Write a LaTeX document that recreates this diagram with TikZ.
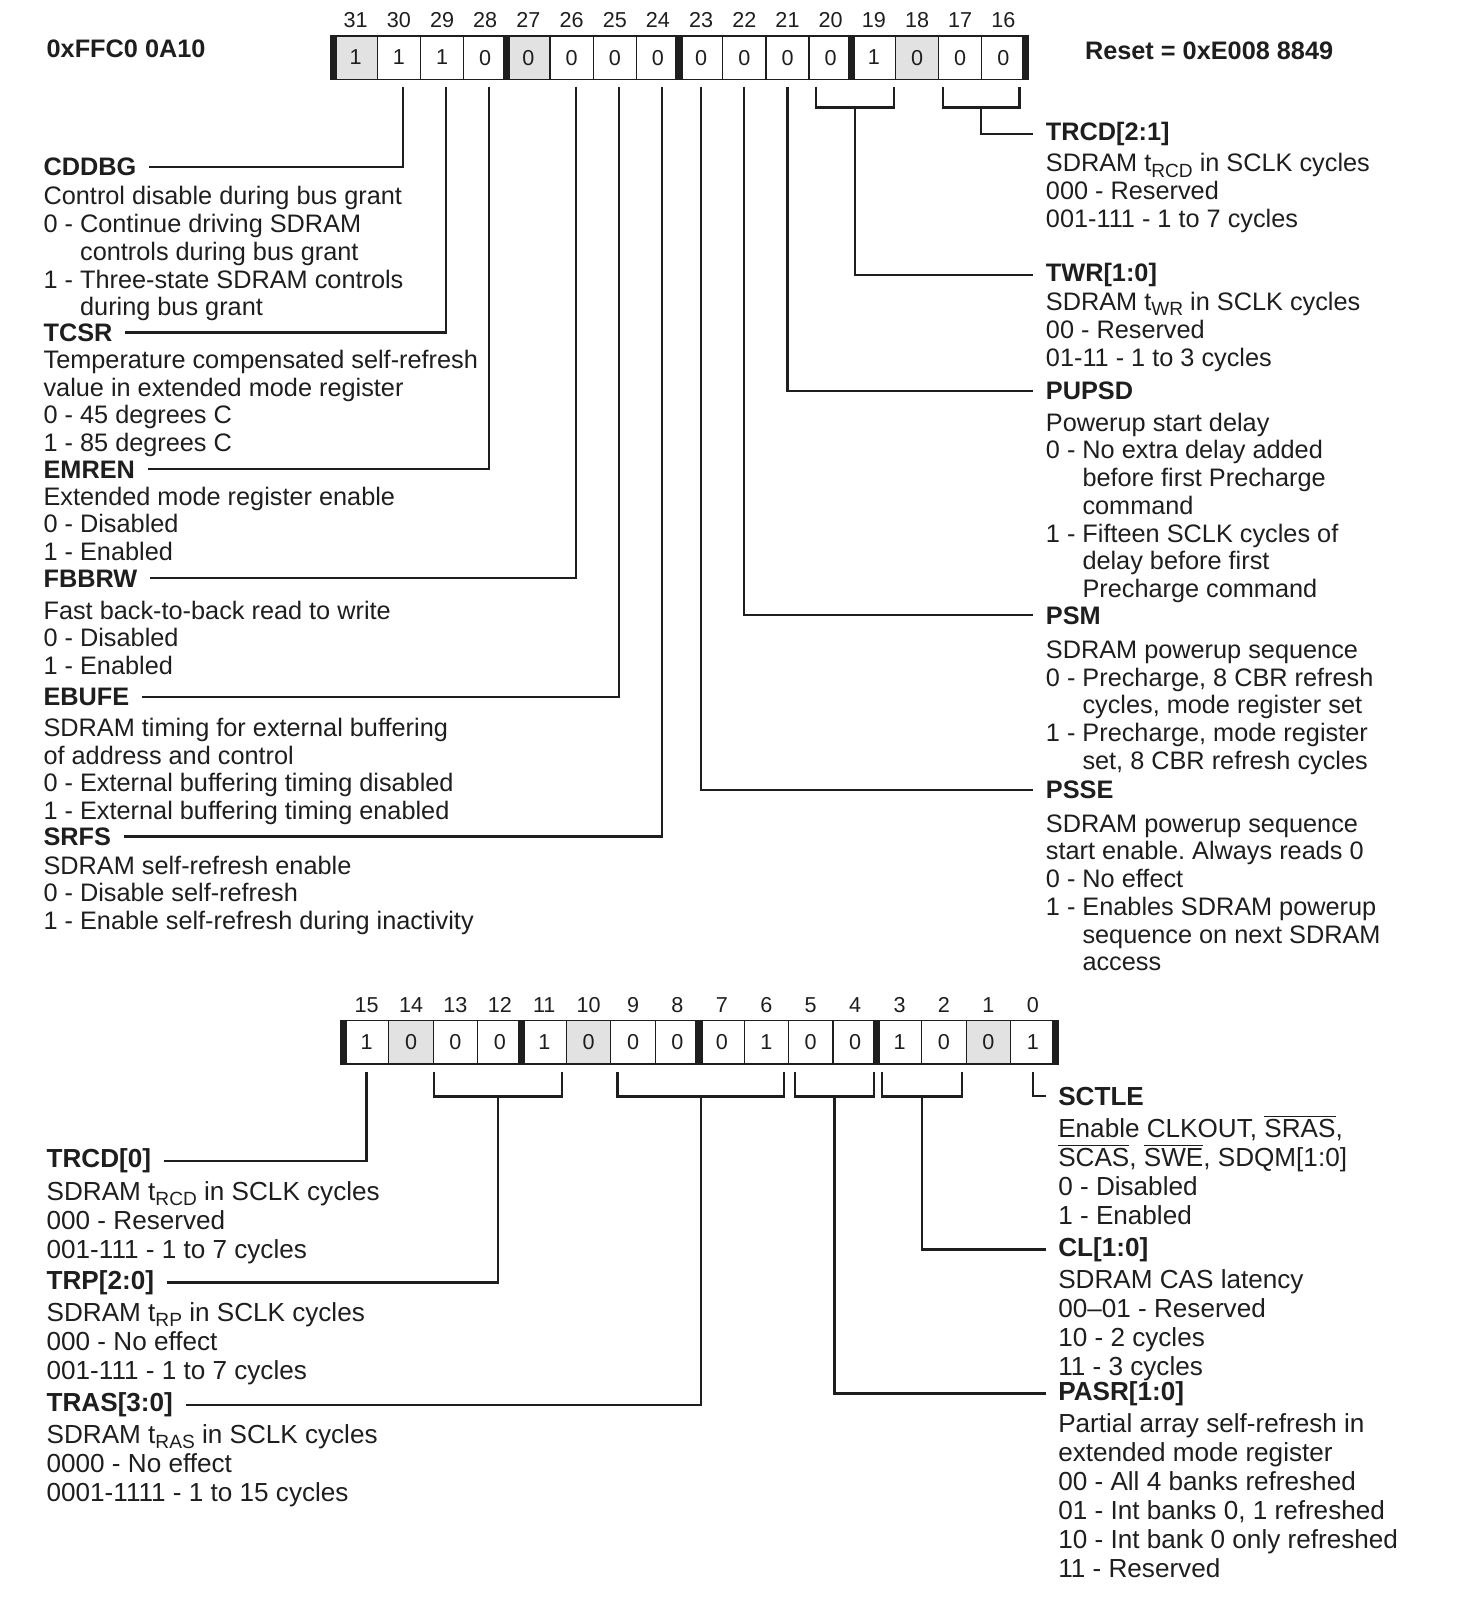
\documentclass[tikz,border=0pt]{standalone}
\usepackage{fontspec}
\setmainfont{Liberation Sans}
\usepackage{tikz}
\usetikzlibrary{positioning}
\definecolor{ink}{HTML}{1E1E1E}
\definecolor{shade}{HTML}{E2E2E2}
\frenchspacing
\newcommand{\contline}{\hphantom{0 - }}
\newcommand{\tsub}[1]{\raisebox{-0.2em}{\fontsize{9.3}{9.3}\selectfont #1}}
\newcommand{\negsig}[1]{\smash{$\overline{\hbox{#1}}$}}

\begin{document}
\begin{tikzpicture}[
  x=0.5pt, y=-0.5pt,
  cell/.style={draw=ink, line width=0.6pt, minimum width=21pt, minimum height=21pt, inner sep=0pt, text=ink, font=\fontsize{10.5}{12}\selectfont},
  bitnum/.style={inner sep=0pt, text=ink, font=\fontsize{10.5}{12}\selectfont},
  bar/.style={draw=ink, line width=3.5pt},
  fname/.style={inner sep=0pt, anchor=base west, text=ink, execute at begin node=\bfseries},
  fdesc/.style={inner sep=0pt, anchor=north west, align=left, text=ink},
  lead/.style={draw=ink, line width=1.1pt, shorten <=3.5pt, shorten >=6pt},
  brace/.style={draw=ink, line width=1.1pt},
  stem/.style={draw=ink, line width=1.1pt, shorten >=6pt}
]
\useasboundingbox (0,0) rectangle (1427,1568);

% upper half word, bits 31..16
\foreach \b/\v/\f [count=\i from 0] in {31/1/shade,30/1/white,29/1/white,28/0/white,27/0/shade,26/0/white,25/0/white,24/0/white,23/0/white,22/0/white,21/0/white,20/0/white,19/1/white,18/0/shade,17/0/white,16/0/white}{
  \node[cell, fill=\f] (t\b) at (346+42*\i,56) {\v};
  \node[bitnum, above=3.5pt of t\b] (tn\b) {\b};
}
% lower half word, bits 15..0
\foreach \b/\v/\f [count=\i from 0] in {15/1/white,14/0/shade,13/0/white,12/0/white,11/1/white,10/0/shade,9/0/white,8/0/white,7/0/white,6/1/white,5/0/white,4/0/white,3/1/white,2/0/white,1/0/shade,0/1/white}{
  \node[cell, minimum width=21.6pt, fill=\f] (b\b) at (356.6+43.2*\i,1014) {\v};
  \node[bitnum, above=3.5pt of b\b] (bn\b) {\b};
}
\foreach \c in {t31,t27,t23,t19,b15,b11,b7,b3}
  \draw[bar] (\c.north west) -- (\c.south west);
\foreach \c in {t16,b0}
  \draw[bar] (\c.north east) -- (\c.south east);

\begin{scope}[font=\fontsize{12.3}{13.5}\selectfont]
\node[fname] (addr) at (45,56) {0xFFC0 0A10};
\node[fname] (reset) at (1055,58) {Reset = 0xE008 8849};

% left column
\node[fname] (cddbg) at (42,171) {CDDBG};
\node[fdesc] (cddbgtxt) at ([yshift=-4.5pt]cddbg.base west) {\strut Control disable during bus grant\\0 - Continue driving SDRAM\\\contline controls during bus grant\\1 - Three-state SDRAM controls\\\contline during bus grant};
\node[fname] (tcsr) at (42,332) {TCSR};
\node[fdesc] (tcsrtxt) at ([yshift=-3.5pt]tcsr.base west) {\strut Temperature compensated self-refresh\\value in extended mode register\\0 - 45 degrees C\\1 - 85 degrees C};
\node[fname] (emren) at (42,465) {EMREN};
\node[fdesc] (emrentxt) at ([yshift=-3.5pt]emren.base west) {\strut Extended mode register enable\\0 - Disabled\\1 - Enabled};
\node[fname] (fbbrw) at (42,571) {FBBRW};
\node[fdesc] (fbbrwtxt) at ([yshift=-6pt]fbbrw.base west) {\strut Fast back-to-back read to write\\0 - Disabled\\1 - Enabled};
\node[fname] (ebufe) at (42,686) {EBUFE};
\node[fdesc] (ebufetxt) at ([yshift=-5.5pt]ebufe.base west) {\strut SDRAM timing for external buffering\\of address and control\\0 - External buffering timing disabled\\1 - External buffering timing enabled};
\node[fname] (srfs) at (42,822) {SRFS};
\node[fdesc] (srfstxt) at ([yshift=-4.5pt]srfs.base west) {\strut SDRAM self-refresh enable\\0 - Disable self-refresh\\1 - Enable self-refresh during inactivity};

% right column
\node[fname] (trcdhi) at (1017,137) {TRCD[2:1]};
\node[fdesc] (trcdhitxt) at ([yshift=-5.5pt]trcdhi.base west) {\strut SDRAM t\tsub{RCD} in SCLK cycles\\000 - Reserved\\001-111 - 1 to 7 cycles};
\node[fname] (twr) at (1017,274) {TWR[1:0]};
\node[fdesc] (twrtxt) at ([yshift=-4.5pt]twr.base west) {\strut SDRAM t\tsub{WR} in SCLK cycles\\00 - Reserved\\01-11 - 1 to 3 cycles};
\node[fname] (pupsd) at (1017,389) {PUPSD};
\node[fdesc] (pupsdtxt) at ([yshift=-5.5pt]pupsd.base west) {\strut Powerup start delay\\0 - No extra delay added\\\contline before first Precharge\\\contline command\\1 - Fifteen SCLK cycles of\\\contline delay before first\\\contline Precharge command};
\node[fname] (psm) at (1017,607) {PSM};
\node[fdesc] (psmtxt) at ([yshift=-7pt]psm.base west) {\strut SDRAM powerup sequence\\0 - Precharge, 8 CBR refresh\\\contline cycles, mode register set\\1 - Precharge, mode register\\\contline set, 8 CBR refresh cycles};
\node[fname] (psse) at (1017,777) {PSSE};
\node[fdesc] (pssetxt) at ([yshift=-6.5pt]psse.base west) {\strut SDRAM powerup sequence\\start enable. Always reads 0\\0 - No effect\\1 - Enables SDRAM powerup\\\contline sequence on next SDRAM\\\contline access};
\end{scope}

\begin{scope}[font=\fontsize{12.7}{14.1}\selectfont]
\node[fname] (trcdlo) at (45,1136) {TRCD[0]};
\node[fdesc] (trcdlotxt) at ([yshift=-5.6pt]trcdlo.base west) {\strut SDRAM t\tsub{RCD} in SCLK cycles\\000 - Reserved\\001-111 - 1 to 7 cycles};
\node[fname] (trp) at (45,1254) {TRP[2:0]};
\node[fdesc] (trptxt) at ([yshift=-5.6pt]trp.base west) {\strut SDRAM t\tsub{RP} in SCLK cycles\\000 - No effect\\001-111 - 1 to 7 cycles};
\node[fname] (tras) at (45,1373) {TRAS[3:0]};
\node[fdesc] (trastxt) at ([yshift=-5.6pt]tras.base west) {\strut SDRAM t\tsub{RAS} in SCLK cycles\\0000 - No effect\\0001-1111 - 1 to 15 cycles};

\node[fname] (sctle) at (1029,1075) {SCTLE};
\node[fdesc] (sctletxt) at ([yshift=-5.6pt]sctle.base west) {\strut Enable CLKOUT, \negsig{SRAS},\\\negsig{SCAS}, \negsig{SWE}, SDQM[1:0]\\0 - Disabled\\1 - Enabled};
\node[fname] (cl) at (1029,1222) {CL[1:0]};
\node[fdesc] (cltxt) at ([yshift=-5.6pt]cl.base west) {\strut SDRAM CAS latency\\00--01 - Reserved\\10 - 2 cycles\\11 - 3 cycles};
\node[fname] (pasr) at (1029,1362) {PASR[1:0]};
\node[fdesc] (pasrtxt) at ([yshift=-5.6pt]pasr.base west) {\strut Partial array self-refresh in\\extended mode register\\00 - All 4 banks refreshed\\01 - Int banks 0, 1 refreshed\\10 - Int bank 0 only refreshed\\11 - Reserved};
\end{scope}

% single bit leads
\foreach \c/\f in {t30/cddbg,t29/tcsr,t28/emren,t26/fbbrw,t25/ebufe,t24/srfs}
  \draw[lead] ([xshift=2pt]\c.south) |- (\f.east);
\draw[lead] (b15.south) |- (trcdlo.east);
\foreach \c/\f in {t23/psse,t22/psm,t21/pupsd,b0/sctle}
  \draw[lead] (\c.south) |- (\f.west);

% multi bit fields
\draw[brace] ([shift={(7,7)}]t20.south west) -- ++(0,20) -| coordinate[pos=0.25] (g2019) ([shift={(-2,7)}]t19.south east);
\draw[brace] ([shift={(5,7)}]t17.south west) -- ++(0,20) -| coordinate[pos=0.25] (g1716) ([shift={(-6,7)}]t16.south east);
\draw[brace] ([shift={(1,7)}]b13.south west) -- ++(0,24) -| coordinate[pos=0.25] (g1311) ([shift={(-5,7)}]b11.south east);
\draw[brace] ([shift={(7,7)}]b9.south west) -- ++(0,24) -| coordinate[pos=0.25] (g0906) ([shift={(-5,7)}]b6.south east);
\draw[brace] ([shift={(7,7)}]b5.south west) -- ++(0,24) -| coordinate[pos=0.25] (g0504) ([shift={(-4,7)}]b4.south east);
\draw[brace] ([shift={(5,7)}]b3.south west) -- ++(0,24) -| coordinate[pos=0.25] (g0302) ([shift={(-5,7)}]b2.south east);
\draw[stem] (g2019) |- (twr.west);
\draw[stem] (g1716) |- (trcdhi.west);
\draw[stem] (g1311) |- (trp.east);
\draw[stem] (g0906) |- (tras.east);
\draw[stem] (g0504) |- (pasr.west);
\draw[stem] (g0302) |- (cl.west);
\end{tikzpicture}
\end{document}
